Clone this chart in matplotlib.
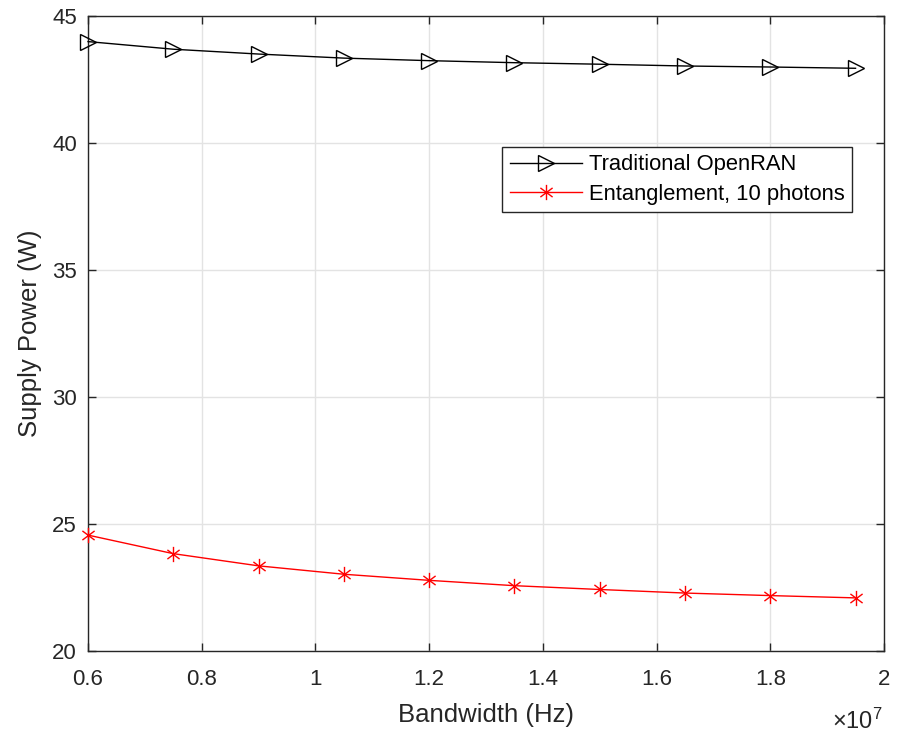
import numpy as np
import matplotlib
matplotlib.use("Agg")
import matplotlib.pyplot as plt
from matplotlib.path import Path

plt.rcParams['font.family'] = ['Liberation Sans', 'DejaVu Sans']
plt.rcParams['mathtext.fontset'] = 'custom'
plt.rcParams['mathtext.rm'] = 'Liberation Sans'

# data (bandwidth in Hz, supply power in W)
bandwidth = [6e6, 7.5e6, 9e6, 10.5e6, 12e6, 13.5e6, 15e6, 16.5e6, 18e6, 19.5e6]
traditional = [43.98, 43.68, 43.49, 43.33, 43.23, 43.15, 43.09, 43.02, 42.98, 42.93]
entangled = [24.56, 23.83, 23.35, 23.02, 22.78, 22.57, 22.42, 22.28, 22.18, 22.09]

xticks = [0.6e7, 0.8e7, 1.0e7, 1.2e7, 1.4e7, 1.6e7, 1.8e7, 2.0e7]
xticklabels = ['0.6', '0.8', '1', '1.2', '1.4', '1.6', '1.8', '2']
yticks = [20, 25, 30, 35, 40, 45]

# matlab style asterisk: vertical bar plus two diagonals
star = Path([(0, -1), (0, 1), (-0.8, -0.6), (0.8, 0.6), (-0.8, 0.6), (0.8, -0.6)],
            [Path.MOVETO, Path.LINETO] * 3)

axcol = '#262626'
fig = plt.figure(figsize=(9.02, 7.36), dpi=100)
ax = fig.add_axes([0.0976, 0.1155, 0.8824, 0.8632])

ax.plot(bandwidth, traditional, color='k', lw=1.0, marker='>', ms=12,
        mfc='none', mec='k', mew=1.0, label='Traditional OpenRAN', clip_on=False, zorder=3)
ax.plot(bandwidth, entangled, color='#ff0000', lw=1.0, marker=star, ms=11,
        mec='#ff0000', mew=1.0, label='Entanglement, 10 photons', clip_on=False, zorder=3)

ax.set_xlim(0.6e7, 2.0e7)
ax.set_ylim(20, 45)
ax.set_xticks(xticks)
ax.set_xticklabels(xticklabels)
ax.set_yticks(yticks)
ax.grid(True, color='#e3e3e3', lw=1.0)
ax.set_axisbelow(True)
ax.tick_params(direction='in', length=6, width=1, colors=axcol, labelsize=16,
               top=True, right=True)
ax.tick_params(axis='x', pad=13)
ax.tick_params(axis='y', pad=8)
for s in ax.spines.values():
    s.set_color(axcol)
    s.set_linewidth(1.0)

ax.set_xlabel('Bandwidth (Hz)', fontsize=18.5, color=axcol, labelpad=9)
ax.set_ylabel('Supply Power (W)', fontsize=18.5, color=axcol, labelpad=7)
fig.text(0.979, 0.01, r'$\times\mathregular{10^7}$', fontsize=17, color=axcol,
         ha='right', va='baseline')

leg = ax.legend(loc='upper left', bbox_to_anchor=(0.52, 0.794), fontsize=15.8,
                frameon=True, fancybox=False, edgecolor=axcol, framealpha=1,
                borderpad=0.35, handlelength=3.3, handletextpad=0.3, labelspacing=0.38,
                borderaxespad=0)
leg.get_frame().set_linewidth(1.0)

fig.savefig('out.png', dpi=100)
